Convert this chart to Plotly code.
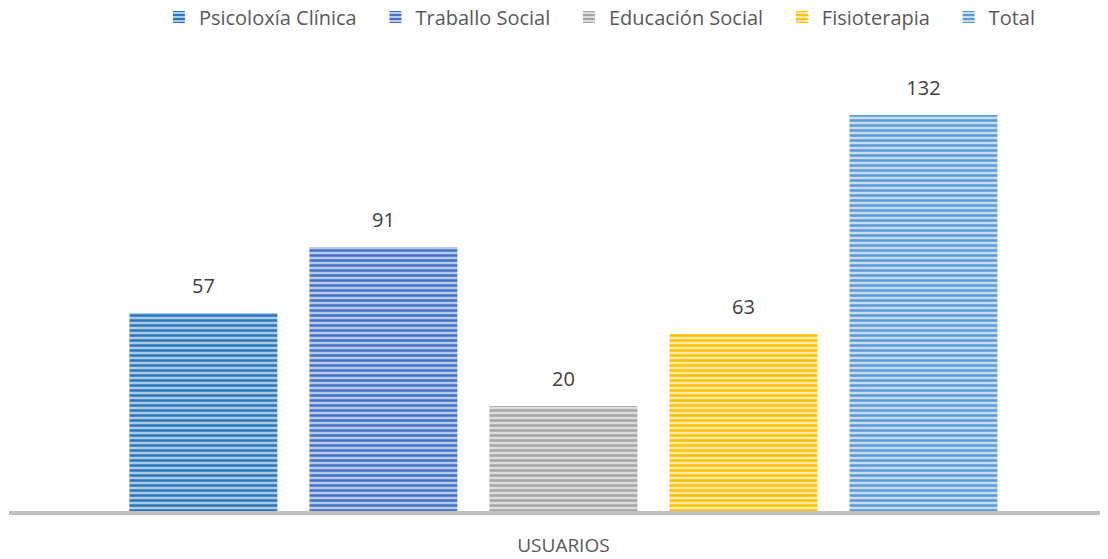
import plotly.graph_objects as go

categories = ["USUARIOS"]
series_names = ["Psicoloxía Clínica", "Traballo Social", "Educación Social", "Fisioterapia", "Total"]
bar_heights = [66, 88, 35, 59, 132]      # drawn bar heights
bar_labels = ["57", "91", "20", "63", "132"]  # data labels printed above the bars
fg_colors = ["#2E75B6", "#4472C4", "#A5A5A5", "#FFC000", "#5B9BD5"]
bg_colors = ["#A9CBEA", "#B9CAEA", "#DCDCDC", "#FFE9A6", "#C5DCF1"]

fig = go.Figure()
for name, h, lab, fg, bg in zip(series_names, bar_heights, bar_labels, fg_colors, bg_colors):
    fig.add_trace(go.Bar(
        name=name + "\u00a0\u00a0\u2009",
        x=categories,
        y=[h],
        text=["<span style='font-size:20px'>" + lab + "</span><br> "],
        textposition="outside",
        textfont=dict(family="Open Sans", size=11, color="#404040"),
        cliponaxis=False,
        marker=dict(
            color=bg,
            line=dict(width=0),
            pattern=dict(shape="-", fgcolor=fg, bgcolor=bg, size=5, solidity=0.5, fillmode="replace"),
        ),
        hoverinfo="skip",
    ))

fig.update_layout(
    width=1100, height=551,
    margin=dict(l=1, r=0, t=50, b=48, autoexpand=False),
    paper_bgcolor="white", plot_bgcolor="white",
    barmode="group", bargap=0.181, bargroupgap=0.178,
    font=dict(family="Open Sans", size=20, color="#595959"),
    showlegend=True,
    legend=dict(orientation="h", x=0.544, xanchor="center", xref="container",
                y=1 - 9 / 551, yanchor="middle", yref="container",
                font=dict(size=20, color="#595959"), traceorder="normal"),
    xaxis=dict(range=[-0.5045, 0.4955], showline=True, linecolor="#BFBFBF", linewidth=4,
               showgrid=False, zeroline=False, ticks="", ticklabelstandoff=14,
               automargin=False, tickfont=dict(size=19, color="#595959")),
    yaxis=dict(range=[0, 151], visible=False, showgrid=False, zeroline=False),
)
fig.write_html("out.html")
